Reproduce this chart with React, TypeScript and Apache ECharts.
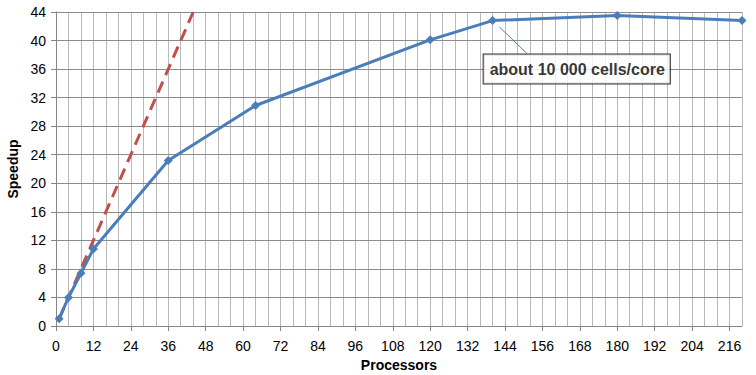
import React, { useEffect, useRef } from "react";
import * as echarts from "echarts";

const processors = [1, 4, 8, 12, 36, 64, 120, 140, 180, 220];
const speedup = [1, 4, 7.4, 10.8, 23.2, 30.9, 40.1, 42.8, 43.5, 42.8];
const idealProcessors = [1, 44];
const idealSpeedup = [1, 44];
const annotationText = "about 10 000 cells/core";
const annotationAt = [167, 36];
const arrowFrom = [151, 38.2];
const arrowTo = [142.2, 41.9];

const FONT = "Liberation Sans, Arial, sans-serif";

export default function App() {
  const ref = useRef<HTMLDivElement>(null);
  useEffect(() => {
    if (!ref.current) return;
    const chart = echarts.init(ref.current, null, { renderer: "svg" });
    const axisGray = "#868686";
    chart.setOption({
      animation: false,
      backgroundColor: "#ffffff",
      textStyle: { fontFamily: FONT },
      grid: {
        left: 56,
        right: 14,
        top: 12,
        bottom: 49,
        containLabel: false,
        outerBoundsMode: "none",
      },
      xAxis: [
        {
          type: "value",
          min: 0,
          max: 220,
          interval: 12,
          name: "Processors",
          nameLocation: "middle",
          nameGap: 29,
          nameTextStyle: { fontFamily: FONT, fontSize: 14, fontWeight: "bold", color: "#000" },
          axisLine: { show: true, lineStyle: { color: axisGray, width: 1 } },
          axisTick: { show: true, length: 5, lineStyle: { color: axisGray } },
          axisLabel: {
            fontFamily: FONT,
            fontSize: 14,
            color: "#000",
            margin: 13,
            showMaxLabel: false,
          },
          splitLine: { show: false },
          z: 3,
        },
        {
          type: "value",
          min: 0,
          max: 220,
          interval: 4,
          position: "bottom",
          axisLine: { show: false },
          axisTick: { show: false },
          axisLabel: { show: false },
          splitLine: { show: true, lineStyle: { color: "#b9b9b9", width: 1 } },
        },
      ],
      yAxis: {
        type: "value",
        min: 0,
        max: 44,
        interval: 4,
        name: "Speedup",
        nameLocation: "middle",
        nameGap: 36,
        nameTextStyle: { fontFamily: FONT, fontSize: 14, fontWeight: "bold", color: "#000" },
        axisLine: { show: true, lineStyle: { color: axisGray, width: 1 } },
        axisTick: { show: true, length: 5, lineStyle: { color: axisGray } },
        axisLabel: { fontFamily: FONT, fontSize: 14, color: "#000", margin: 10 },
        splitLine: { show: true, lineStyle: { color: "#8c8c8c", width: 1 } },
        z: 3,
      },
      series: [
        {
          name: "ideal",
          type: "line",
          xAxisIndex: 0,
          data: idealProcessors.map((p, i) => [p, idealSpeedup[i]]),
          symbol: "none",
          lineStyle: { color: "#C0504D", width: 3, type: [12, 7] },
          z: 4,
        },
        {
          name: "speedup",
          type: "line",
          xAxisIndex: 0,
          data: processors.map((p, i) => [p, speedup[i]]),
          symbol: "diamond",
          symbolSize: 9,
          itemStyle: { color: "#4A7EBB" },
          lineStyle: { color: "#4A7EBB", width: 3 },
          z: 5,
          markLine: {
            silent: true,
            symbol: ["none", "arrow"],
            symbolSize: [0, 7],
            label: { show: false },
            lineStyle: { color: "#4A7EBB", width: 1, type: "solid" },
            data: [[{ coord: arrowFrom }, { coord: arrowTo }]],
          },
        },
        {
          name: "annotation",
          type: "scatter",
          xAxisIndex: 0,
          data: [annotationAt],
          symbolSize: 0,
          z: 6,
          label: {
            show: true,
            position: "inside",
            formatter: annotationText,
            fontFamily: FONT,
            fontSize: 16,
            fontWeight: "bold",
            color: "#000",
            backgroundColor: "#fff",
            borderColor: "#000",
            borderWidth: 1,
            padding: [7, 5, 6, 6],
          },
        },
      ],
    });
    return () => chart.dispose();
  }, []);
  return (
    <div
      ref={ref}
      style={{ position: "fixed", left: 0, top: 0, width: 756, height: 375 }}
    />
  );
}
